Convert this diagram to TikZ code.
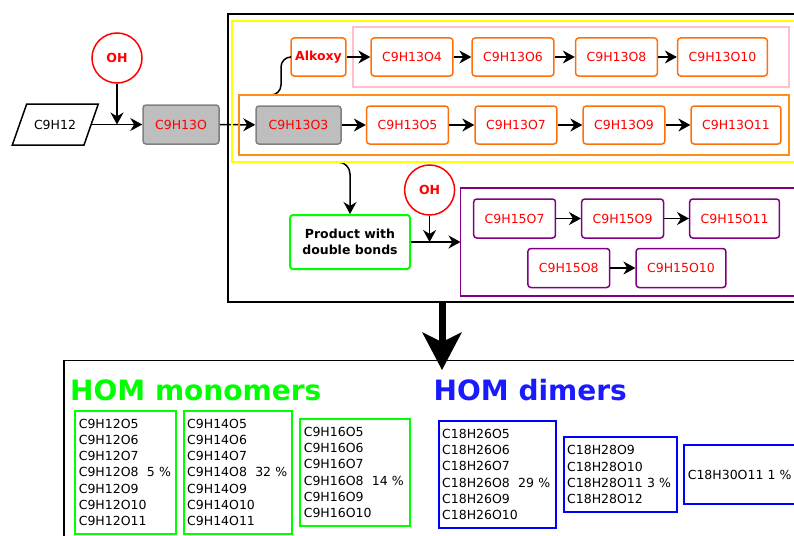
\documentclass[tikz,border=0pt]{standalone}
\usepackage{fontspec}
\setmainfont{DejaVu Sans}
\usetikzlibrary{arrows.meta}

\definecolor{boxorange}{RGB}{255,112,10}
\definecolor{frameorange}{RGB}{255,140,20}
\definecolor{boxgray}{RGB}{190,190,190}
\definecolor{boxgraydark}{RGB}{128,128,128}
\definecolor{boxpurple}{RGB}{128,0,128}
\definecolor{framepink}{RGB}{255,192,203}
\definecolor{frameyellow}{RGB}{255,255,0}
\definecolor{homgreen}{RGB}{0,255,0}
\definecolor{homblue}{RGB}{0,0,255}
\definecolor{titleblue}{RGB}{26,26,255}

\tikzset{
  every node/.style={font=\fontsize{12.5}{16.2}\selectfont},
  chem/.style={draw=boxorange, line width=1.5pt, rounded corners=3pt, text=red,
    inner xsep=11pt, minimum height=38pt},
  firstchem/.style={chem, draw=boxgraydark, fill=boxgray},
  dimchem/.style={chem, draw=boxpurple, minimum height=39pt},
  ohcircle/.style={circle, draw=red, line width=1.5pt, text=red, inner sep=0pt,
    minimum size=50pt, font=\fontsize{12.5}{15}\selectfont\bfseries},
  link/.style={-{Stealth[length=12pt,width=13pt]}, line width=1.5pt},
  homlist/.style={anchor=north west, align=left, inner xsep=3.5pt, line width=2pt},
  homtitle/.style={anchor=base west, inner sep=0pt, font=\fontsize{28}{30}\selectfont\bfseries},
}

\begin{document}
\begin{tikzpicture}[x=1pt,y=-1pt]
\useasboundingbox (0,0) rectangle (794,535);
\clip (0,0) rectangle (794,535);

  % Precursor and first step
  \node[minimum width=72pt, minimum height=41pt] (c9h12) at (55,124.5) {C9H12};
  \draw[line width=1.5pt] (12.3,145) -- (26.7,104) -- (98.3,104) -- (84,145) -- cycle;
  \node[ohcircle] (oh1) at (117,58) {OH};
  \node[firstchem, minimum width=76pt, minimum height=39pt] (c9h13o) at (181,124.5) {C9H13O};
  \node[firstchem, minimum width=85pt] (c9h13o3) at (298.5,125) {C9H13O3};

  % Alkoxy branch
  \draw[framepink, line width=1.5pt] (353,27) rectangle (789,87);
  \node[chem, inner xsep=4pt, font=\fontsize{12.5}{15}\selectfont\bfseries] (alkoxy) at (318.5,57) {Alkoxy};
  \node[chem] (c9h13o4) at (412,57) {C9H13O4};
  \node[chem] (c9h13o6) at (513,57) {C9H13O6};
  \node[chem] (c9h13o8) at (616.5,57) {C9H13O8};
  \node[chem] (c9h13o10) at (722.5,57) {C9H13O10};

  % Peroxy branch
  \node[chem] (c9h13o5) at (407.5,125) {C9H13O5};
  \node[chem] (c9h13o7) at (516,125) {C9H13O7};
  \node[chem] (c9h13o9) at (624,125) {C9H13O9};
  \node[chem] (c9h13o11) at (736,125) {C9H13O11};

  % Second OH attack
  \node[draw=homgreen, line width=2pt, rounded corners=3pt, align=center,
    minimum width=120pt, minimum height=54pt, font=\fontsize{12.5}{16}\selectfont\bfseries]
    (prod) at (350,242) {Product with\\double bonds};
  \node[ohcircle] (oh2) at (429.6,190) {OH};
  \node[dimchem] (c9h15o7) at (514.6,218.5) {C9H15O7};
  \node[dimchem] (c9h15o9) at (622.6,218.5) {C9H15O9};
  \node[dimchem] (c9h15o11) at (734.6,218.5) {C9H15O11};
  \node[dimchem] (c9h15o8) at (568.8,268) {C9H15O8};
  \node[dimchem] (c9h15o10) at (681,268) {C9H15O10};

  % Connectors
  \draw[link] (c9h12.east) -- (c9h13o);
  \draw[link] (oh1) -- (oh1 |- c9h12.east);
  \draw[link] (c9h13o) -- (c9h13o3);
  \draw[link] (c9h13o3) -- (c9h13o5);
  \draw[link] (c9h13o5) -- (c9h13o7);
  \draw[link] (c9h13o7) -- (c9h13o9);
  \draw[link] (c9h13o9) -- (c9h13o11);
  \draw[link] (alkoxy) -- (c9h13o4);
  \draw[link] (c9h13o4) -- (c9h13o6);
  \draw[link] (c9h13o6) -- (c9h13o8);
  \draw[link] (c9h13o8) -- (c9h13o10);
  \draw[link] (c9h15o7) -- (c9h15o9);
  \draw[link] (c9h15o9) -- (c9h15o11);
  \draw[link] (c9h15o8) -- (c9h15o10);

  \coordinate (kink) at (269,95);
  \draw[line width=1.5pt, rounded corners=10pt] (kink) -- ++(12,0) |- (alkoxy.west);
  \coordinate (yellowfoot) at (312,162);
  \draw[link, rounded corners=12pt] (yellowfoot) -| (prod.north);
  \coordinate (dimentry) at (460.5,242);
  \draw[link] (prod) -- (dimentry);
  \draw[link] (oh2) -- (oh2 |- prod.east);

  % Frames
  \draw[line width=2pt] (228,14) rectangle (810,302);
  \draw[frameyellow, line width=2pt] (232,21) rectangle (810,162);
  \draw[frameorange, line width=1.5pt] (239,95) rectangle (789,155);
  \draw[boxpurple, line width=1.5pt] (460.5,188) rectangle (810,296);
  \draw[line width=1.5pt] (64,360.7) rectangle (810,550);

  % Big arrow down
  \coordinate (boxfoot) at (442,302);
  \coordinate (homtop) at (442,370);
  \draw[line width=7pt, -{Stealth[length=38pt,width=40pt,inset=10pt,line width=0pt]}] (boxfoot) -- (homtop);

  % HOM lists
  \node[homtitle, text=homgreen] (montitle) at (70,400) {HOM monomers};
  \node[homtitle, text=titleblue] (dimtitle) at (433.5,400) {HOM dimers};

  \node[homlist, draw=homgreen, text width=94pt, minimum height=122.7pt] (mon12) at (74.3,410)
    {C9H12O5\\C9H12O6\\C9H12O7\\C9H12O8\ \ 5 \%\\C9H12O9\\C9H12O10\\C9H12O11};
  \node[homlist, draw=homgreen, text width=101.6pt, minimum height=122.7pt] (mon14) at (182.7,410)
    {C9H14O5\\C9H14O6\\C9H14O7\\C9H14O8\ \ 32 \%\\C9H14O9\\C9H14O10\\C9H14O11};
  \node[homlist, draw=homgreen, text width=102.4pt, minimum height=106.4pt] (mon16) at (299.3,418.3)
    {C9H16O5\\C9H16O6\\C9H16O7\\C9H16O8\ \ 14 \%\\C9H16O9\\C9H16O10};

  \node[homlist, draw=homblue, text width=110.3pt, minimum height=106.7pt] (dim26) at (437.7,420)
    {C18H26O5\\C18H26O6\\C18H26O7\\C18H26O8\ \ 29 \%\\C18H26O9\\C18H26O10};
  \node[homlist, draw=homblue, text width=106.3pt, minimum height=75.3pt] (dim28) at (562.7,436)
    {C18H28O9\\C18H28O10\\C18H28O11 3 \%\\C18H28O12};
  \node[homlist, draw=homblue, text width=123pt, minimum height=59pt] (dim30) at (683.3,444.3)
    {C18H30O11 1 \%};
\end{tikzpicture}
\end{document}
